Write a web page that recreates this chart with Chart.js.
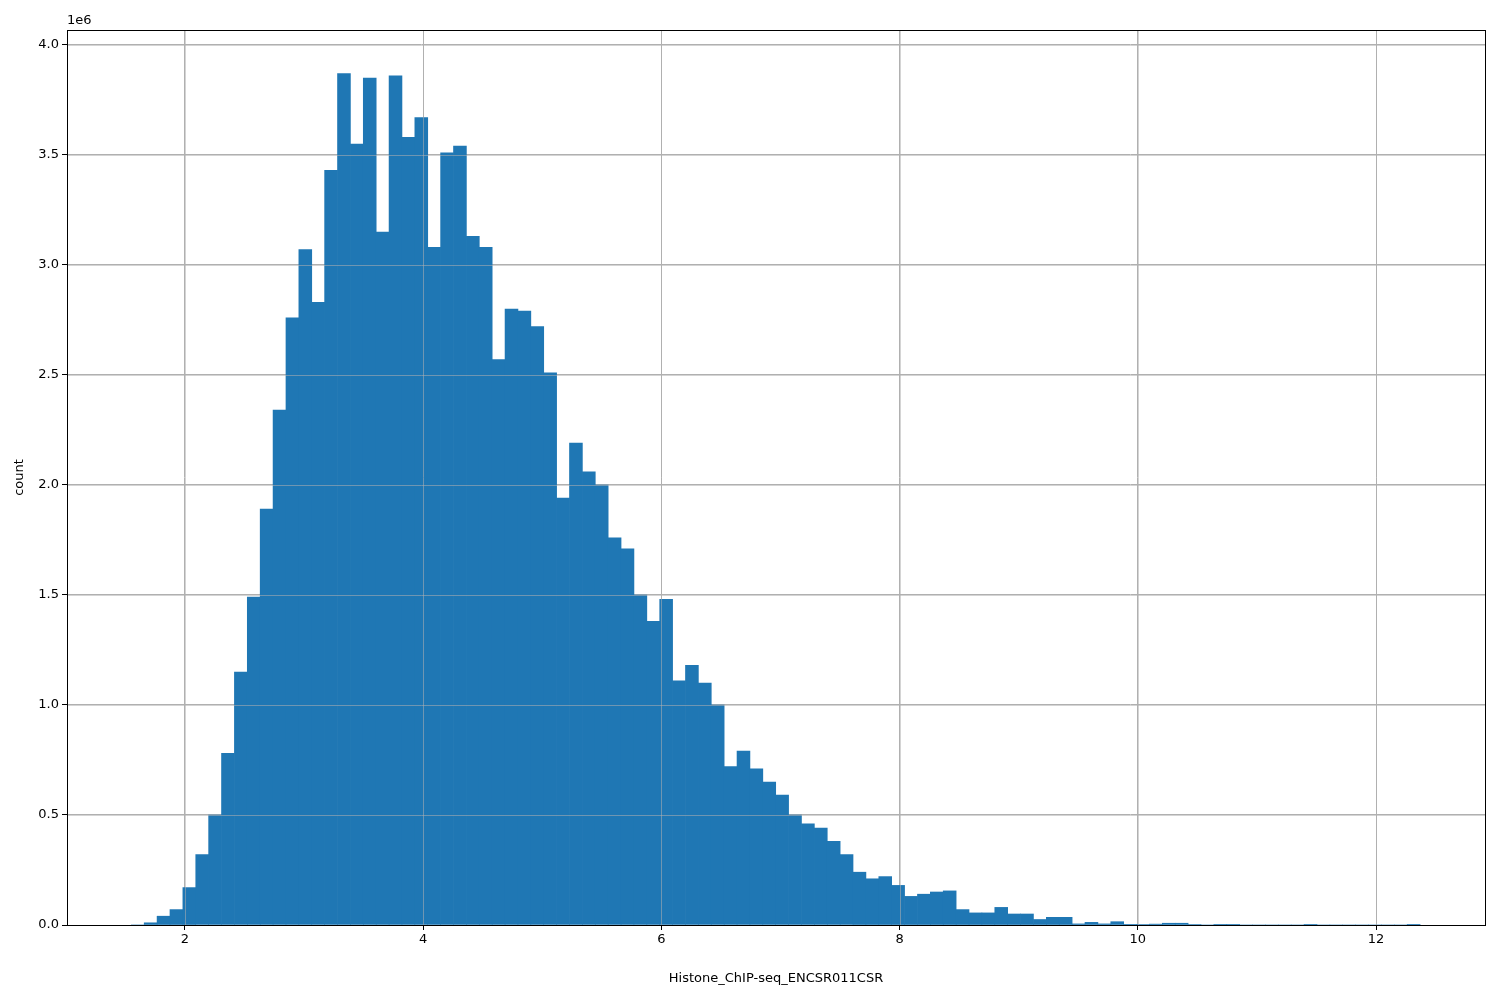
<!DOCTYPE html>
<html>
<head>
<meta charset="utf-8">
<script src="https://cdn.jsdelivr.net/npm/chart.js@4"></script>
<style>
  body { margin: 0; background: #fff; }
  #wrap { width: 1500px; height: 1000px; position: relative; }
</style>
</head>
<body>
<div id="wrap"><canvas id="hist"></canvas></div>
<script>
// Histogram bins: start, width and counts (in units of 1e6)
const binStart = 1.55;
const binWidth = 0.1082;
const counts = [
  0, 0.01, 0.04, 0.07, 0.17, 0.32, 0.50, 0.78, 1.15, 1.49,
  1.89, 2.34, 2.76, 3.07, 2.83, 3.43, 3.87, 3.55, 3.85, 3.15,
  3.86, 3.58, 3.67, 3.08, 3.51, 3.54, 3.13, 3.08, 2.57, 2.80,
  2.79, 2.72, 2.51, 1.94, 2.19, 2.06, 2.00, 1.76, 1.71, 1.50,
  1.38, 1.48, 1.11, 1.18, 1.10, 1.00, 0.72, 0.79, 0.71, 0.65,
  0.59, 0.50, 0.46, 0.44, 0.38, 0.32, 0.24, 0.21, 0.22, 0.18,
  0.13, 0.14, 0.15, 0.155, 0.07, 0.055, 0.055, 0.08, 0.05, 0.05,
  0.025, 0.035, 0.035, 0.005, 0.012, 0.005, 0.015, 0.003, 0.002, 0.004,
  0.008, 0.008, 0.002, 0, 0.001, 0.003, 0, 0, 0, 0,
  0, 0.003, 0, 0, 0, 0, 0, 0, 0, 0.001
];
const xTicks = [2, 4, 6, 8, 10, 12];
const yTicks = [0, 0.5, 1.0, 1.5, 2.0, 2.5, 3.0, 3.5, 4.0];

const points = counts.map((c, i) => ({ x: binStart + (i + 0.5) * binWidth, y: c }));

// matplotlib draws its grid above the bars
const gridOnTop = {
  id: 'gridOnTop',
  afterDatasetsDraw(chart) {
    const { ctx, chartArea: a, scales } = chart;
    ctx.save();
    ctx.strokeStyle = 'rgba(176,176,176,0.55)';
    ctx.lineWidth = 1;
    xTicks.forEach(v => {
      const px = Math.round(scales.x.getPixelForValue(v)) + 0.5;
      ctx.beginPath(); ctx.moveTo(px, a.top); ctx.lineTo(px, a.bottom); ctx.stroke();
    });
    yTicks.forEach(v => {
      const py = Math.round(scales.y.getPixelForValue(v)) + 0.5;
      ctx.beginPath(); ctx.moveTo(a.left, py); ctx.lineTo(a.right, py); ctx.stroke();
    });
    ctx.strokeStyle = '#000';
    ctx.strokeRect(a.left + 0.5, a.top + 0.5, a.right - a.left, a.bottom - a.top);
    ctx.fillStyle = '#000';
    ctx.font = '13px "DejaVu Sans"';
    ctx.textBaseline = 'bottom';
    ctx.fillText('1e6', a.left, a.top - 3);
    ctx.restore();
  }
};

new Chart(document.getElementById('hist').getContext('2d'), {
  type: 'bar',
  data: {
    datasets: [{
      data: points,
      backgroundColor: '#1f77b4',
      borderWidth: 0,
      barPercentage: 1.0,
      categoryPercentage: 1.0
    }]
  },
  options: {
    responsive: true,
    maintainAspectRatio: false,
    animation: false,
    layout: { padding: { top: 30, right: 15, left: 8, bottom: 10 } },
    plugins: { legend: { display: false }, tooltip: { enabled: false } },
    scales: {
      x: {
        type: 'linear',
        offset: false,
        min: 1.01,
        max: 12.915,
        afterBuildTicks: s => { s.ticks = xTicks.map(v => ({ value: v })); },
        afterFit: s => { s.height = 65; },
        grid: { offset: false, color: '#b0b0b0', drawTicks: true, tickLength: 5, tickColor: '#000' },
        border: { display: false },
        ticks: { color: '#000', font: { family: 'DejaVu Sans', size: 13 }, maxRotation: 0, padding: 2 },
        title: { display: true, text: 'Histone_ChIP-seq_ENCSR011CSR', color: '#000',
                 font: { family: 'DejaVu Sans', size: 13 }, padding: { top: 4 } }
      },
      y: {
        min: 0,
        max: 4.068,
        afterBuildTicks: s => { s.ticks = yTicks.map(v => ({ value: v })); },
        afterFit: s => { s.width = 59; },
        grid: { color: '#b0b0b0', tickLength: 5, tickColor: '#000' },
        border: { display: false },
        ticks: { color: '#000', font: { family: 'DejaVu Sans', size: 13 }, padding: 3,
                 callback: v => v.toFixed(1) },
        title: { display: true, text: 'count', color: '#000',
                 font: { family: 'DejaVu Sans', size: 13 }, padding: { bottom: 2 } }
      }
    }
  },
  plugins: [gridOnTop]
});
</script>
</body>
</html>
